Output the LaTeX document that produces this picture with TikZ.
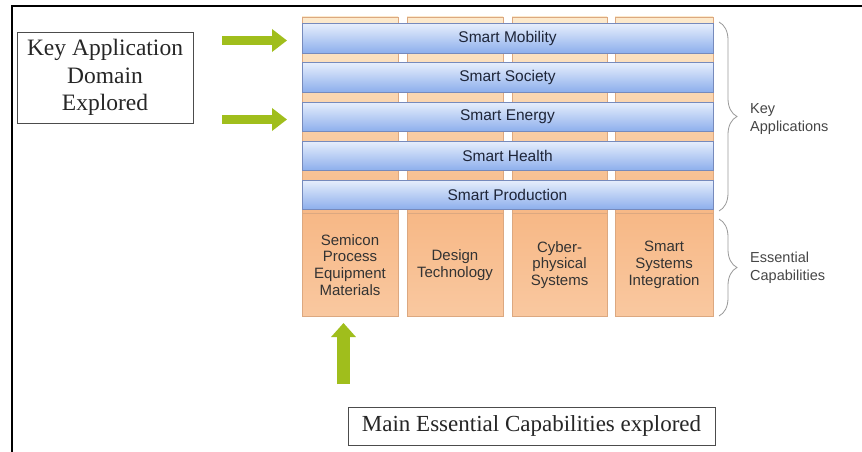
\documentclass[tikz,border=0pt]{standalone}
\usepackage{fontspec}
\setmainfont{Liberation Serif}
\newfontfamily\arialf{Liberation Sans}
\usetikzlibrary{arrows.meta,decorations.pathreplacing}
\definecolor{barTop}{RGB}{230,238,252}
\definecolor{barBot}{RGB}{140,174,236}
\definecolor{barLine}{RGB}{118,138,188}
\definecolor{orLight}{RGB}{252,234,205}
\definecolor{orDark}{RGB}{247,184,134}
\definecolor{orMid}{RGB}{252,218,190}
\definecolor{orBot}{RGB}{249,200,160}
\definecolor{orLine}{RGB}{220,168,128}
\definecolor{arrowGreen}{RGB}{160,190,28}
\definecolor{barText}{RGB}{30,37,56}
\definecolor{sideText}{RGB}{70,70,70}
\tikzset{
  colupper/.style={top color=orLight, bottom color=orDark, draw=orLine, line width=0.6pt},
  capbox/.style={draw=orLine, line width=0.6pt, top color=orDark, middle color=orMid, bottom color=orBot,
    minimum width=96pt, minimum height=103pt, inner sep=0pt, align=center,
    font=\arialf\fontsize{15}{16.8}\selectfont, text=black!80},
  barbox/.style={draw=barLine, line width=0.8pt, top color=barTop, bottom color=barBot,
    minimum width=411pt, minimum height=29.5pt, inner sep=0pt,
    font=\arialf\fontsize{15.5}{16}\selectfont, text=barText},
  serifbox/.style={draw=black!70, line width=0.8pt, inner sep=0pt, align=center,
    font=\fontsize{23.5}{27.5}\selectfont, text=black!85},
  greenarrow/.style={draw=arrowGreen, line width=8.5pt, -{Triangle[width=22pt,length=15pt]}},
  uparrow/.style={draw=arrowGreen, line width=13pt, -{Triangle[width=24pt,length=14pt]}},
  sidebrace/.style={draw=black!40, line width=0.8pt, decorate, decoration={brace, amplitude=18pt}},
  sidelabel/.style={anchor=west, align=left, inner sep=0pt,
    font=\arialf\fontsize{14.5}{18}\selectfont, text=sideText}
}
\begin{document}
\begin{tikzpicture}[x=1pt,y=-1pt]
\useasboundingbox (0,0) rectangle (862,452);
\fill[white] (0,0) rectangle (862,452);
% outer frame
\draw[black, line width=1.5pt] (12,453) -- (12,6) -- (863,6);

% column upper parts
\shade[colupper] (302,17) rectangle (398,213);
\shade[colupper] (407,17) rectangle (503,213);
\shade[colupper] (512,17) rectangle (607,213);
\shade[colupper] (615,17) rectangle (713,213);

% capability boxes
\node[capbox] (cap1) at (350,265) {Semicon\\Process\\Equipment\\Materials};
\node[capbox, minimum width=96pt] (cap2) at (455,265) {Design\\Technology};
\node[capbox, minimum width=95pt] (cap3) at (559.5,265) {Cyber-\\physical\\Systems};
\node[capbox, minimum width=98pt] (cap4) at (664,265) {Smart\\Systems\\Integration};

% application bars
\node[barbox] (mob) at (507.5,38.5) {Smart Mobility};
\node[barbox] (soc) at (507.5,77.5) {Smart Society};
\node[barbox] (ene) at (507.5,117) {Smart Energy};
\node[barbox] (hea) at (507.5,156) {Smart Health};
\node[barbox] (pro) at (507.5,195) {Smart Production};

% braces and side labels
\coordinate (b1t) at (719,22);
\coordinate (b1b) at (719,211);
\coordinate (b2t) at (719,219);
\coordinate (b2b) at (719,316);
\draw[sidebrace] (b1t) -- (b1b);
\draw[sidebrace] (b2t) -- (b2b);
\node[sidelabel] (keyapp) at (750,119) {Key\\Applications};
\node[sidelabel] (esscap) at (750,268) {Essential\\Capabilities};

% left box and arrows
\node[serifbox, minimum width=176pt, minimum height=91pt] (keybox) at (105,77.5) {Key Application\\Domain\\Explored};
\coordinate (a1s) at (222,40.5);
\coordinate (a1e) at (287,40.5);
\coordinate (a2s) at (222,119.5);
\coordinate (a2e) at (287,119.5);
\draw[greenarrow] (a1s) -- (a1e);
\draw[greenarrow] (a2s) -- (a2e);

% bottom box and arrow
\node[serifbox, minimum width=367pt, minimum height=38pt, font=\fontsize{23}{27}\selectfont] (mainbox) at (531.5,426) {Main Essential Capabilities explored};
\coordinate (u1s) at (343.5,384);
\coordinate (u1e) at (343.5,323);
\draw[uparrow] (u1s) -- (u1e);
\end{tikzpicture}
\end{document}
